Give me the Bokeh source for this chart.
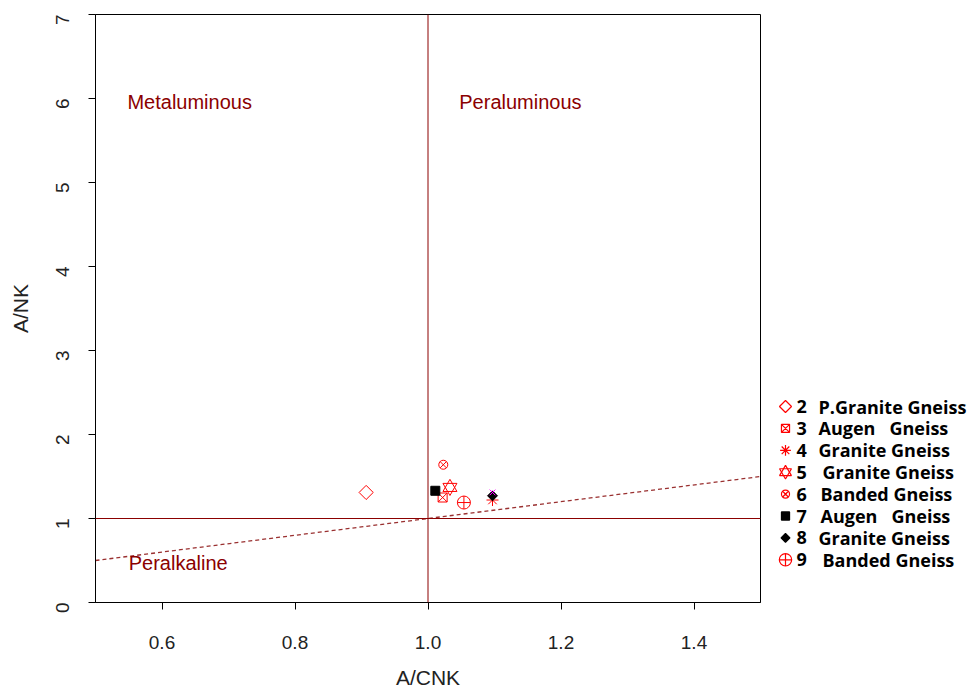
import math
from bokeh.plotting import figure
from bokeh.layouts import row
from bokeh.models import Range1d, FixedTicker, Label, Span
from bokeh.core.properties import value
from bokeh.embed import file_html
from bokeh.resources import INLINE

# ---- data ----
ids = ["2", "3", "4", "5", "6", "7", "8", "9"]
names = ["P.Granite Gneiss", "Augen   Gneiss", "Granite Gneiss", "Granite Gneiss",
         "Banded Gneiss", "Augen   Gneiss", "Granite Gneiss", "Banded Gneiss"]
a_cnk = [0.907, 1.022, 1.097, 1.033, 1.023, 1.011, 1.097, 1.054]
a_nk = [1.31, 1.25, 1.22, 1.37, 1.64, 1.33, 1.27, 1.19]
extra_x = [1.097]
extra_y = [1.31]
x_ticks = [0.6, 0.8, 1.0, 1.2, 1.4]
y_ticks = [0, 1, 2, 3, 4, 5, 6, 7]
line_x = [0.5, 1.5]
line_y = [0.5, 1.5]

DARK = "#8B0000"
RED = "#FF0000"

W_MAIN = 765
p = figure(width=W_MAIN, height=693, output_backend="svg", toolbar_location=None,
           x_range=Range1d(0.5, 1.5), y_range=Range1d(0, 7),
           min_border_left=95, min_border_right=5, min_border_top=14, min_border_bottom=91)
p.grid.visible = False
p.outline_line_color = "black"
p.outline_line_width = 1
p.background_fill_color = "white"
p.border_fill_color = "white"

for ax in (p.xaxis[0], p.yaxis[0]):
    ax.major_tick_in = 0
    ax.major_tick_out = 7
    ax.minor_tick_line_color = None
    ax.major_label_text_font = "Liberation Sans"
    ax.major_label_text_font_size = "19px"
    ax.major_label_text_color = "#222222"
    ax.axis_label_text_font = "Liberation Sans"
    ax.axis_label_text_font_size = "21px"
    ax.axis_label_text_font_style = "normal"
    ax.axis_label_text_color = "#222222"
    ax.axis_line_color = "black"
    ax.major_tick_line_color = "black"

p.xaxis.ticker = FixedTicker(ticks=x_ticks)
p.xaxis.major_label_overrides = {t: f"{t:.1f}" for t in x_ticks}
p.xaxis.axis_label = "A/CNK"
p.xaxis.major_label_standoff = 26
p.xaxis.axis_label_standoff = 14

p.yaxis.ticker = FixedTicker(ticks=y_ticks)
p.yaxis.axis_label = "A/NK"
p.yaxis.major_label_orientation = math.pi / 2
p.yaxis.major_label_standoff = 26
p.yaxis.axis_label_standoff = 15

# reference lines
p.add_layout(Span(location=1.0, dimension="height", line_color=DARK, line_width=1))
p.add_layout(Span(location=1.0, dimension="width", line_color=DARK, line_width=1))
p.line(line_x, line_y, line_color="#9A3030", line_width=1.3, line_dash="4 3")

# region labels
for txt, lx, ly in [("Metaluminous", 0.548, 5.96), ("Peraluminous", 1.047, 5.96), ("Peralkaline", 0.55, 0.476)]:
    p.add_layout(Label(x=lx, y=ly, text=txt, text_color=DARK, text_font="Liberation Sans",
                       text_font_size="20px", text_baseline="middle", text_align="left"))

# marker styles per sample (style only)
styles = [
    [dict(marker="square", angle=math.pi / 4, size=10, fill_color=None, line_color=RED)],
    [dict(marker="square_x", size=9, fill_color=None, line_color=RED)],
    [dict(marker="asterisk", size=12, line_color=RED)],
    [dict(marker="triangle", size=14, fill_color=None, line_color=RED),
     dict(marker="inverted_triangle", size=14, fill_color=None, line_color=RED)],
    [dict(marker="circle_x", size=9, fill_color=None, line_color=RED)],
    [dict(marker="square", size=9, fill_color="black", line_color="black")],
    [dict(marker="square", angle=math.pi / 4, size=7, fill_color="black", line_color="black")],
    [dict(marker="circle_cross", size=13, fill_color=None, line_color=RED)],
]
leg_scale = [0.85, 0.9, 0.9, 0.85, 0.9, 0.9, 0.9, 0.95]

for i, sty in enumerate(styles):
    for s in sty:
        p.scatter(x=[a_cnk[i]], y=[a_nk[i]], line_width=1, **s)
p.scatter(extra_x, extra_y, marker="x", size=8, line_color="#FF00FF", line_width=1)

# ---- legend panel (separate figure; its frame is aligned with the main frame,
#      so its ranges are expressed in page pixels) ----
W_LEG = 973 - W_MAIN
q = figure(width=W_LEG, height=693, output_backend="svg", toolbar_location=None,
           x_range=Range1d(W_MAIN, 973), y_range=Range1d(602, 14),
           min_border_left=0, min_border_right=0, min_border_top=14, min_border_bottom=91)
q.axis.visible = False
q.grid.visible = False
q.outline_line_color = None
q.background_fill_color = "white"
q.border_fill_color = "white"

row_y = [406 + 21.9 * i for i in range(len(ids))]
for i, sty in enumerate(styles):
    for s in sty:
        s2 = dict(s)
        s2["size"] = s["size"] * leg_scale[i]
        q.scatter(x=[785], y=[row_y[i]], line_width=1.2, **s2)

q.text(x=[796] * len(ids), y=row_y, text=ids, text_font=value("Open Sans"),
       text_font_style="bold", text_font_size="18px", text_color="black",
       text_baseline="middle", text_align="left")
name_x = [818, 818, 818, 822, 820, 820, 818, 822]
q.text(x=name_x, y=row_y, text=[n.replace(" ", "\u00a0") for n in names],
       text_font=value("Open Sans"), text_font_style="bold", text_font_size="18px", text_color="black",
       text_baseline="middle", text_align="left")

layout = row(p, q)
layout.spacing = 0
open("out.html", "w").write(file_html(layout, INLINE))
